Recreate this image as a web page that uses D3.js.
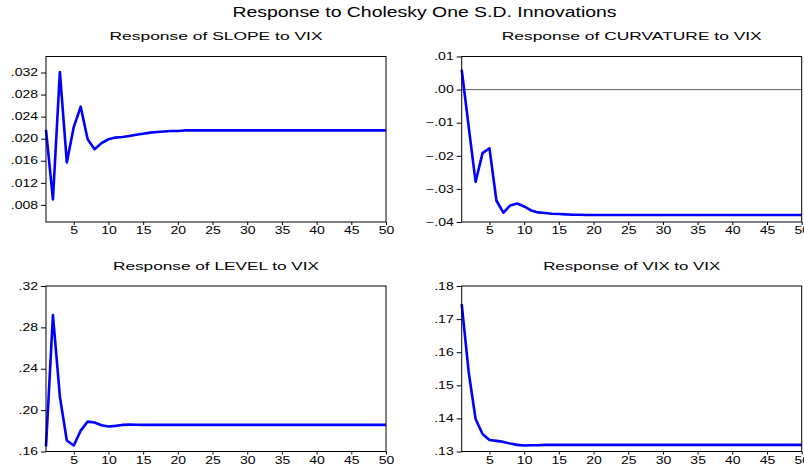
<!DOCTYPE html>
<html>
<head>
<meta charset="utf-8">
<script src="https://cdn.jsdelivr.net/npm/d3@7"></script>
<style>
  body { margin: 0; background: #fff; }
  text { font-family: "Liberation Sans", Arial, sans-serif; fill: #000; }
</style>
</head>
<body>
<svg></svg>
<script>
const size = {w: 804, h: 470};
const svg = d3.select('svg')
    .attr('width', size.w)
    .attr('height', size.h);

// periods 1..50
const periods = d3.range(1, 51);

// responses
const slope = [
    .0216, .0090, .0321, .0157, .0221, .0258, .0199, .0181, .0192, .0199,
    .0202, .0203, .0205, .0207, .0209, .0211, .0212, .0213, .0214, .0214,
    .0215, .0215, .0215, .0215, .0215, .0215, .0215, .0215, .0215, .0215,
    .0215, .0215, .0215, .0215, .0215, .0215, .0215, .0215, .0215, .0215,
    .0215, .0215, .0215, .0215, .0215, .0215, .0215, .0215, .0215, .0215
];
const curvature = [
    .0060, -.0111, -.0279, -.0192, -.0177, -.0335, -.0372, -.0350, -.0344, -.0353,
    -.0365, -.0371, -.0373, -.0375, -.0376, -.0377, -.0378, -.0378, -.0379, -.0379,
    -.0379, -.0379, -.0379, -.0379, -.0379, -.0379, -.0379, -.0379, -.0379, -.0379,
    -.0379, -.0379, -.0379, -.0379, -.0379, -.0379, -.0379, -.0379, -.0379, -.0379,
    -.0379, -.0379, -.0379, -.0379, -.0379, -.0379, -.0379, -.0379, -.0379, -.0379
];
const level = [
    .1650, .2918, .2130, .1706, .1658, .1802, .1889, .1880, .1854, .1842,
    .1848, .1857, .1860, .1858, .1857, .1857, .1857, .1857, .1857, .1857,
    .1857, .1857, .1857, .1857, .1857, .1857, .1857, .1857, .1857, .1857,
    .1857, .1857, .1857, .1857, .1857, .1857, .1857, .1857, .1857, .1857,
    .1857, .1857, .1857, .1857, .1857, .1857, .1857, .1857, .1857, .1857
];
const vix = [
    .1745, .1541, .1398, .1353, .1335, .1332, .1329, .1324, .1320, .1318,
    .1319, .1319, .1320, .1320, .1320, .1320, .1320, .1320, .1320, .1320,
    .1320, .1320, .1320, .1320, .1320, .1320, .1320, .1320, .1320, .1320,
    .1320, .1320, .1320, .1320, .1320, .1320, .1320, .1320, .1320, .1320,
    .1320, .1320, .1320, .1320, .1320, .1320, .1320, .1320, .1320, .1320
];

// tick labels
const xTicks = [5, 10, 15, 20, 25, 30, 35, 40, 45, 50];
const slopeTicks = [.008, .012, .016, .020, .024, .028, .032];
const curvatureTicks = [-.04, -.03, -.02, -.01, .00, .01];
const levelTicks = [.16, .20, .24, .28, .32];
const vixTicks = [.13, .14, .15, .16, .17, .18];

const mainTitle = 'Response to Cholesky One S.D. Innovations';
const titles = ['Response of SLOPE to VIX', 'Response of CURVATURE to VIX',
                'Response of LEVEL to VIX', 'Response of VIX to VIX'];

// the reference text is stretched sideways
const stretch = 1.4;

const panels = [
    {title: titles[0], values: slope, ticks: slopeTicks, domain: [.0049, .0349], fmt: '.3f',
     x: 46, y: 56.5, titleW: 213, zero: false},
    {title: titles[1], values: curvature, ticks: curvatureTicks, domain: [-.04, .01], fmt: '.2f',
     x: 461.7, y: 56.5, titleW: 260, zero: true},
    {title: titles[2], values: level, ticks: levelTicks, domain: [.16, .32], fmt: '.2f',
     x: 46, y: 286, titleW: 206, zero: false},
    {title: titles[3], values: vix, ticks: vixTicks, domain: [.13, .18], fmt: '.2f',
     x: 461.7, y: 286, titleW: 177, zero: false}
];
const pw = 340, ph = 165.5;

svg.append('text')
    .attr('x', 424.5)
    .attr('y', 17.3)
    .attr('text-anchor', 'middle')
    .style('font-size', '14px')
    .attr('textLength', 384)
    .attr('lengthAdjust', 'spacingAndGlyphs')
    .text(mainTitle);

panels.forEach(function (p) {
    let g = svg.append('g')
        .attr('transform', 'translate(' + p.x + ',' + p.y + ')');

    let x = d3.scaleLinear().domain([1, 50]).range([0, pw]);
    let y = d3.scaleLinear().domain(p.domain).range([ph, 0]);
    let f = d3.format(p.fmt);

    g.append('text')
        .attr('x', pw / 2)
        .attr('y', -16.5)
        .attr('text-anchor', 'middle')
        .style('font-size', '11.6px')
        .attr('textLength', p.titleW)
        .attr('lengthAdjust', 'spacingAndGlyphs')
        .text(p.title);

    let yAxis = g.append('g')
        .call(d3.axisLeft(y).tickValues(p.ticks).tickSize(5).tickPadding(3)
            .tickFormat(d => f(d).replace('0.', '.')));
    let xAxis = g.append('g')
        .attr('transform', 'translate(0,' + ph + ')')
        .call(d3.axisBottom(x).tickValues(xTicks).tickSize(3).tickPadding(2));

    [yAxis, xAxis].forEach(function (a) {
        a.select('.domain').remove();
        a.selectAll('line').attr('stroke', '#000');
        a.selectAll('text')
            .style('font-size', '10px')
            .style('font-family', '"Liberation Sans", Arial, sans-serif')
            .attr('fill', '#000')
            .each(function () {
                let len = this.getComputedTextLength();
                d3.select(this)
                    .attr('textLength', len * stretch)
                    .attr('lengthAdjust', 'spacingAndGlyphs');
            });
    });

    if (p.zero) {
        g.append('line')
            .attr('x1', 0).attr('x2', pw)
            .attr('y1', y(0)).attr('y2', y(0))
            .attr('stroke', '#333')
            .attr('stroke-width', 0.8);
    }

    let line = d3.line()
        .x((d, i) => x(periods[i]))
        .y(d => y(d));

    g.append('path')
        .datum(p.values)
        .attr('d', line)
        .attr('fill', 'none')
        .attr('stroke', '#0000ff')
        .attr('stroke-width', 2.6)
        .attr('stroke-linejoin', 'round');

    g.append('rect')
        .attr('width', pw)
        .attr('height', ph)
        .attr('fill', 'none')
        .attr('stroke', '#000')
        .attr('stroke-width', 1);
});
</script>
</body>
</html>
